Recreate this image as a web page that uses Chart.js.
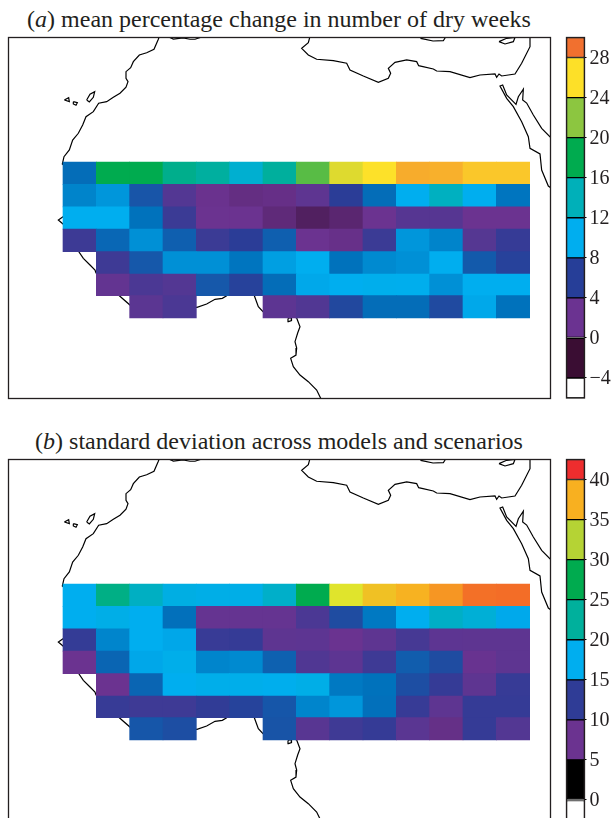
<!DOCTYPE html>
<html>
<head>
<meta charset="utf-8">
<title>Dry weeks</title>
<script src="https://cdn.jsdelivr.net/npm/chart.js@4/dist/chart.umd.min.js"></script>
<style>
    html, body { margin: 0; padding: 0; background: #fff; overflow: hidden; }
    body { position: relative; width: 613px; height: 818px; }
    canvas { position: absolute; }
    .judul {
        position: absolute; left: 0; width: 558px; text-align: center;
        font-family: "Liberation Serif", serif; font-size: 24px; line-height: 24px; color: #231f20;
        white-space: nowrap;
    }
</style>
</head>
<body>
<div class="judul" style="top: 7px"><span>(<i>a</i>) mean percentage change in number of dry weeks</span></div>
<div class="judul" style="top: 429px"><span>(<i>b</i>) standard deviation across models and scenarios</span></div>
<canvas id="mapA" width="560" height="375" style="left:0;top:30px"></canvas>
<canvas id="barA" width="53" height="391" style="left:560px;top:22px"></canvas>
<canvas id="mapB" width="560" height="375" style="left:0;top:452px"></canvas>
<canvas id="barB" width="53" height="391" style="left:560px;top:444px"></canvas>
<script>
// Grid kolom dan baris (derajat)
const columnLons = [-16, -12, -8, -4, 0, 4, 8, 12, 16, 20, 24, 28, 32, 36];
const latEdges = [24.5, 21.7, 18.9, 16.1, 13.3, 10.5, 7.8, 5];

// (a) mean percentage change, baris dari utara ke selatan
const meanChange = [
    [7.8, 18, 18, 15.5, 14.7, 12, 14.8, 20.5, 24.9, 26, 27.4, 27.3, 26.7, 26.7],
    [8.6, 9.2, 6.9, 3.5, 1.9, 1.4, 1.6, 2.8, 6, 7.8, 10, 13, 10, 8.1],
    [10, 10, 8, 5, 2, 2, 1, -0.1, 0.6, 2, 3.3, 3.3, 2, 2],
    [4.9, 7.6, 9, 7.3, 5, 6, 7.3, 2, 1.7, 5, 9.2, 8.6, 3.4, 5.3],
    [null, 4.8, 7, 9, 9, 8.1, 9.5, 10, 8, 8.8, 9, 10, 7.1, 6.2],
    [null, 2.5, 4, 3.5, 7, 6.2, 7.8, 9.8, 10, 10.2, 10.1, 9, 10, 10],
    [null, null, 3, 4, null, null, 2.9, 3.6, 6.4, 7.8, 7.8, 6.5, 9.8, 8]
];

// (b) standard deviation
const stdDev = [
    [17.5, 24, 20.2, 18.2, 18, 18, 19.8, 27.5, 33, 36, 37.3, 38.2, 39.2, 39.3],
    [17.5, 18, 17.5, 14.9, 8, 8, 8, 10, 13.2, 15.3, 17.5, 20, 19, 17.3],
    [11.8, 15.8, 17.5, 17.2, 11.5, 11.7, 8.5, 8.6, 7.6, 8.5, 10.4, 8.6, 8.5, 8.5],
    [7.5, 14.4, 17.2, 17.8, 15.8, 16, 14.2, 9.6, 8.6, 11, 14, 13.2, 7.7, 8.5],
    [null, 7.5, 14.4, 17.5, 17.8, 17.8, 17.6, 18, 15.3, 15, 13.3, 11.7, 8.5, 11.6],
    [null, 11.6, 11, 11, 12, 12.8, 13.7, 15.8, 16.5, 14.9, 11.6, 8.5, 11.7, 11.7],
    [null, null, 13.7, 13.3, null, null, 13.6, 9, 10.9, 11.7, 8.8, 7.2, 11.7, 9.4]
];

// Skala warna sel
const stopsA = [-2, 2, 6, 8, 10, 14, 18, 22, 26, 29];
const stopColorsA = ['#3a0f35', '#6b3390', '#2b3d97', '#0072bc', '#00aeef', '#00b0b0', '#00ab4f', '#8dc63f', '#fde129', '#f1702f'];
const stopsB = [2.5, 7.5, 12.5, 15, 17.5, 22.5, 27.5, 33, 37.5, 41];
const stopColorsB = ['#000000', '#6b3390', '#2b3d97', '#0072bc', '#00aeef', '#00b09c', '#00ab4f', '#e0e42c', '#f8b020', '#ee2d2e'];

// Colorbar
const bandEdgesA = [-6, -4, 0, 4, 8, 12, 16, 20, 24, 28, 30];
const bandColorsA = ['#ffffff', '#3a0d33', '#6b3391', '#263e98', '#00aeef', '#00b0b9', '#00ab4f', '#8cc640', '#fde028', '#f1702f'];
const tickLabelsA = [-4, 0, 4, 8, 12, 16, 20, 24, 28];
const bandEdgesB = [-2.5, 0, 5, 10, 15, 20, 25, 30, 35, 40, 42.5];
const bandColorsB = ['#ffffff', '#000000', '#6b3390', '#2f3c96', '#00aeef', '#00b09c', '#00ab4f', '#b5d334', '#f8b020', '#ee2d2e'];
const tickLabelsB = [0, 5, 10, 15, 20, 25, 30, 35, 40];

// Garis pantai [lon, lat]
const coastAfrica = [[-6.42, 40.25], [-6.56, 39.84], [-7.08, 38.59], [-7.96, 38.16], [-8.84, 37.87], [-9.56, 37.04], [-9.88, 36.29],
    [-10.44, 35.79], [-10.44, 34.96], [-10.2, 34.54], [-10.44, 33.84], [-11.16, 33.09], [-11.96, 32.59], [-12.76, 32.04], [-13.72, 31.84],
    [-14.36, 30.79], [-15.24, 30.16], [-15.64, 29.12], [-16.16, 28.09], [-16.84, 27.25], [-17.24, 26], [-17.88, 25.16], [-18.08, 24.25],
    [-17.16, 23.5], [-17.16, 18.5], [-18, 17.66], [-18.56, 17.25], [-18, 16.75], [-17.16, 16], [-16.16, 13.37], [-15.56, 12.46],
    [-14.76, 11.62], [-14.16, 11], [-14.04, 10.62], [-11.24, 7.79], [-9.96, 6.62], [-1.92, 6.34], [-0.76, 6.75], [0.24, 7.34], [1.12, 7.46],
    [1.64, 7.79], [3.24, 9.12], [4.96, 7.79], [5.44, 6.41], [6, 5.79], [8.04, 5.75], [10.04, 5], [10.44, 3.91], [10.16, 3.12], [9.84, 2.04],
    [10.04, 1.25], [9.96, 0.37], [9.32, -0.04], [9.64, -1.09], [10.44, -2.13], [11.44, -2.96], [12.44, -4], [12.92, -5.04], [13, -5.3]];
const coastMaghreb = [[-5.4, 40.3], [-5.24, 40.09], [-4.76, 39.87], [-3.6, 40], [-2.76, 39.84], [-2.16, 39.84], [-1.44, 40.09], [-1.3, 40.3]];
const coastLibyaEgypt = [[11.64, 40.2], [11.44, 39.41], [10.64, 38.71], [11.44, 37.87], [12.44, 37.34], [14.44, 37.16], [16.04, 36.84],
    [16.44, 36], [18.04, 35.25], [19.84, 34.46], [21.04, 34.96], [21.32, 35.59], [21.04, 36.21], [21.84, 36.96], [23.24, 37.25], [24.44, 37.04],
    [24.68, 36.54], [26.44, 36.12], [26.84, 35.87], [28.44, 35.79], [30.84, 35.04], [32.04, 35.37], [33.84, 35.5], [34.04, 35.09], [34.32, 35.5],
    [34.64, 35.25], [36.24, 35.5], [37.04, 36.84], [38.04, 38.91], [38.04, 40.25]];
const coastRedSea = [[40.56, 21.25], [40.24, 21.5], [39.44, 23.5], [39.24, 25.5], [38.04, 26.21], [37.84, 27.66], [37.04, 29.54], [36.04, 31.41],
    [35.24, 32.46], [34.44, 34], [34.76, 34.12], [35.24, 32.87], [36.36, 31.71], [36.64, 32.66], [37.24, 33.59], [37.16, 32.25], [37.64, 31.87],
    [38.44, 30.37], [39.44, 28.71], [40.56, 27.52]];
const islandNorthA = [[24.96, 40.2], [24.96, 39.94], [26.4, 39.62], [27.64, 39.66], [27.96, 40.2]];
const islandNorthB = [[34.32, 39.54], [35.24, 39.96], [36.24, 40.06], [36.04, 39.54], [35.04, 39.25], [34.32, 39.54]];
const canaryA = [[-17.84, 32.25], [-17.32, 32.54], [-17.24, 32.04], [-17.84, 32.25]];
const canaryB = [[-16.76, 32.04], [-16.28, 31.91], [-16.44, 31.59], [-16.76, 31.75], [-16.76, 32.04]];
const canaryC = [[-15.16, 32.25], [-14.76, 32.96], [-14.2, 33.29], [-14.36, 32.59], [-14.84, 32], [-15.16, 32.25]];
const bioko = [[9, 4.94], [9.36, 5.06], [9.42, 4.69], [9.06, 4.56], [9, 4.94]];
const coastLines = [coastAfrica, coastMaghreb, coastLibyaEgypt, coastRedSea, islandNorthA, islandNorthB, canaryA, canaryB, canaryC, bioko];

const fontSerif = '"Liberation Serif", serif';
const inkColor = '#231f20';

// Interpolasi warna antar stop
function colorFor(value, stops, colors) {
    const toRgb = (hex) => [1, 3, 5].map((i) => parseInt(hex.substr(i, 2), 16));
    if (value <= stops[0]) return colors[0];
    for (let i = 1; i < stops.length; i++) {
        if (value <= stops[i]) {
            const t = (value - stops[i - 1]) / (stops[i] - stops[i - 1]);
            const a = toRgb(colors[i - 1]), b = toRgb(colors[i]);
            return 'rgb(' + a.map((c, k) => Math.round(c + (b[k] - c) * t)).join(',') + ')';
        }
    }
    return colors[colors.length - 1];
}

// Bingkai hitam di sekeliling area chart
const framePlugin = {
    id: 'frame',
    afterDraw(chart) {
        const { ctx, chartArea: a } = chart;
        ctx.save();
        ctx.strokeStyle = inkColor;
        ctx.lineWidth = 1.3;
        ctx.strokeRect(a.left, a.top, a.right - a.left, a.bottom - a.top);
        ctx.restore();
    }
};

function makeMap(id, rows, stops, colors) {
    const cells = [], cellColors = [];
    rows.forEach((row, r) => {
        row.forEach((v, c) => {
            if (v === null) return;
            cells.push({ x: columnLons[c], y: [latEdges[r + 1], latEdges[r]] });
            cellColors.push(colorFor(v, stops, colors));
        });
    });
    const coastSets = coastLines.map((line) => ({
        type: 'line',
        data: line.map((p) => ({ x: p[0], y: p[1] })),
        borderColor: '#000',
        borderWidth: 1.2,
        pointRadius: 0,
        tension: 0,
        order: 2
    }));
    new Chart(document.getElementById(id), {
        type: 'bar',
        data: {
            datasets: [{
                type: 'bar',
                data: cells,
                backgroundColor: cellColors,
                borderColor: cellColors,
                borderWidth: 0,
                barPercentage: 1,
                categoryPercentage: 1,
                order: 1
            }, ...coastSets]
        },
        options: {
            responsive: false,
            animation: false,
            layout: { padding: { left: 8.5, right: 9.5, top: 7.5, bottom: 6.5 } },
            plugins: { legend: { display: false }, tooltip: { enabled: false } },
            scales: {
                x: { type: 'linear', display: false, offset: false, min: -24.54, max: 40.5, ticks: { stepSize: 4, includeBounds: false } },
                y: { type: 'linear', display: false, min: -5.06, max: 40.06 }
            }
        },
        plugins: [framePlugin]
    });
}

function makeColorbar(id, edges, colors, tickLabels) {
    new Chart(document.getElementById(id), {
        type: 'bar',
        data: {
            labels: [''],
            datasets: colors.map((col, i) => ({
                data: [[edges[i], edges[i + 1]]],
                backgroundColor: col,
                borderColor: '#000',
                borderWidth: 1,
                borderSkipped: false,
                grouped: false,
                barPercentage: 1,
                categoryPercentage: 1
            }))
        },
        options: {
            responsive: false,
            animation: false,
            layout: { padding: { left: 6.5, top: 15.5, bottom: 14.5 } },
            plugins: { legend: { display: false }, tooltip: { enabled: false } },
            scales: {
                x: { display: false },
                y: {
                    position: 'right',
                    min: edges[0],
                    max: edges[edges.length - 1],
                    afterBuildTicks: (scale) => { scale.ticks = tickLabels.map((v) => ({ value: v })); },
                    afterFit: (scale) => { scale.width = 28.5; },
                    border: { display: false },
                    grid: { drawOnChartArea: false, tickLength: 2, tickColor: '#000', tickWidth: 1 },
                    ticks: {
                        padding: 3,
                        labelOffset: 1,
                        color: inkColor,
                        autoSkip: false,
                        font: { family: fontSerif, size: 20 },
                        callback: (v) => String(v).replace('-', '\u2212')
                    }
                }
            }
        },
        plugins: [framePlugin]
    });
}

makeMap('mapA', meanChange, stopsA, stopColorsA);
makeColorbar('barA', bandEdgesA, bandColorsA, tickLabelsA);
makeMap('mapB', stdDev, stopsB, stopColorsB);
makeColorbar('barB', bandEdgesB, bandColorsB, tickLabelsB);
</script>
</body>
</html>
